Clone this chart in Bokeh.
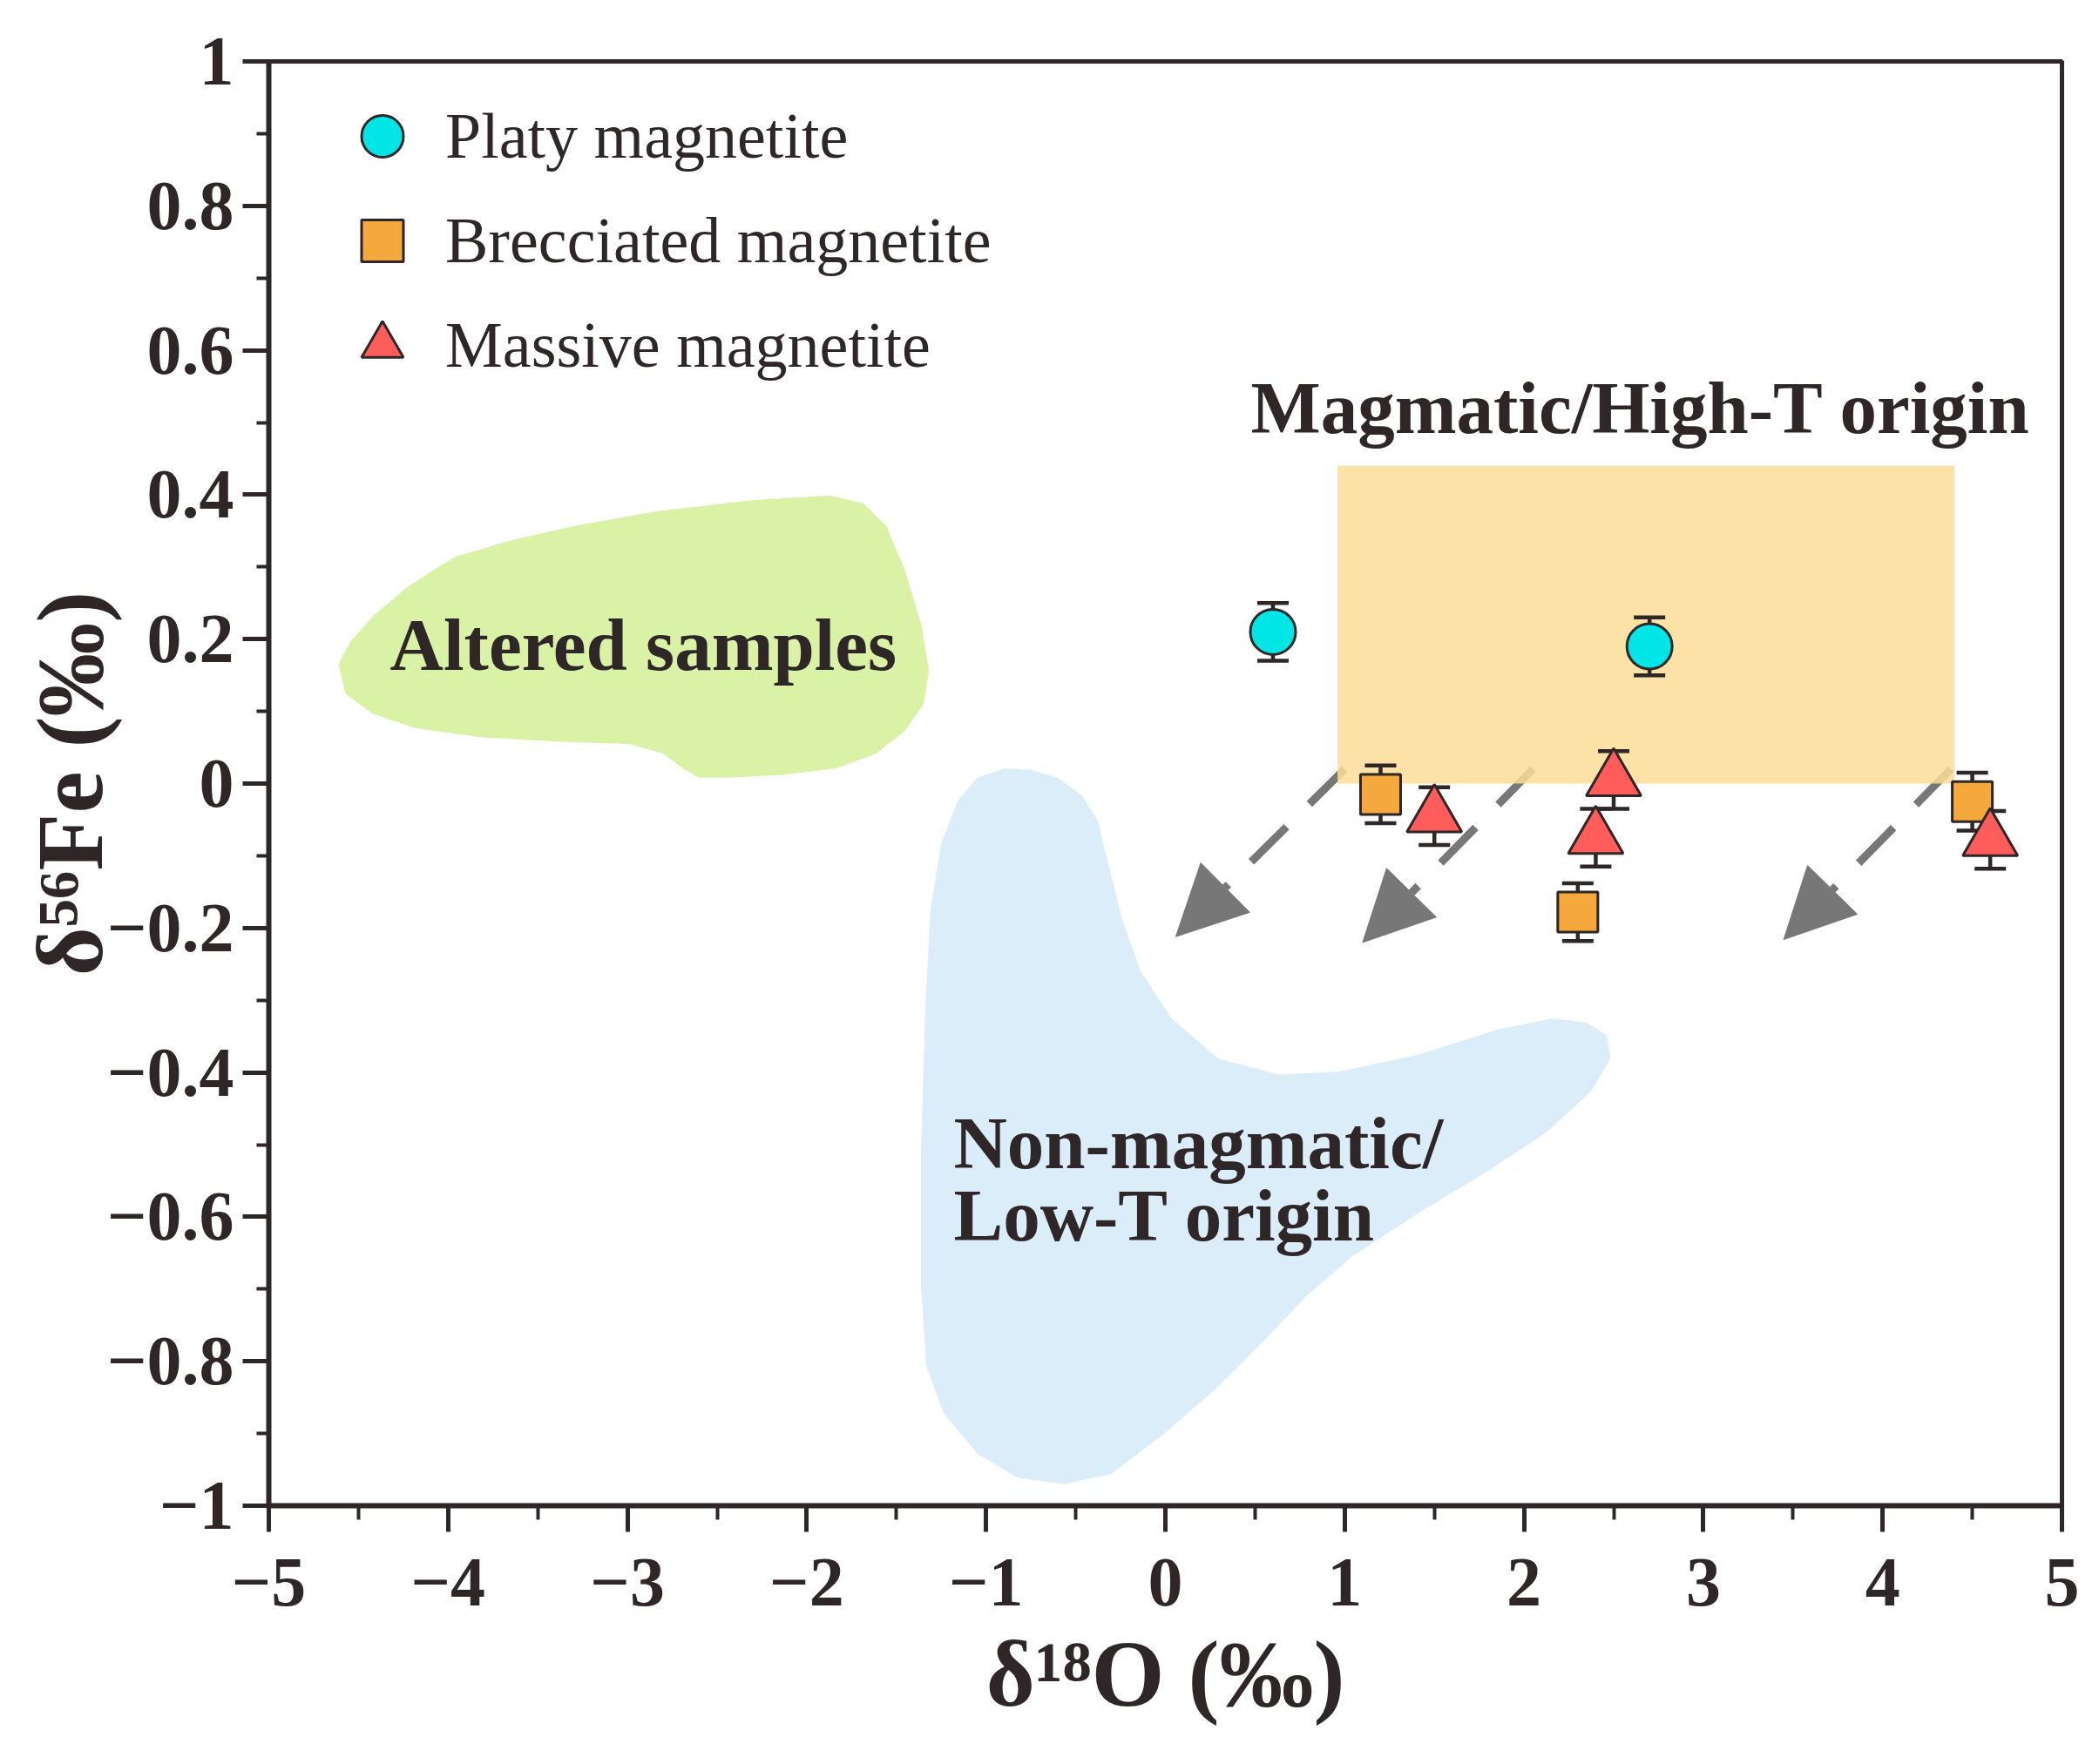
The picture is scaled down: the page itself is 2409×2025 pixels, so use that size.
from bokeh.plotting import figure
from bokeh.models import (ColumnDataSource, FixedTicker, CustomJSTickFormatter, Whisker, TeeHead,
                          Arrow, NormalHead, Legend, LegendItem)
from bokeh.core.properties import value
from bokeh.embed import file_html
from bokeh.resources import INLINE

# ---------------- data ----------------
platy_x = [0.6, 2.7]
platy_y = [0.21, 0.19]
platy_err = [0.04, 0.04]

brec_x = [1.2, 2.3, 4.5]
brec_y = [-0.015, -0.178, -0.025]
brec_err = [0.04, 0.04, 0.04]

mass_x = [1.5, 2.5, 2.4, 4.6]
mass_y = [-0.045, 0.005, -0.075, -0.078]
mass_err = [0.04, 0.04, 0.04, 0.04]

series_names = ["Platy magnetite", "Brecciated magnetite", "Massive magnetite"]

# Magmatic / High-T field (box)
mag_left, mag_right = 0.96, 4.40
mag_bottom, mag_top = 0.0, 0.44

# arrows out of the magmatic field
arrow_x0 = [1.0, 2.05, 4.38]
arrow_y0 = [0.02, 0.02, 0.02]
arrow_x1 = [0.058, 1.10, 3.448]
arrow_y1 = [-0.212, -0.220, -0.216]

# Altered samples field outline
alt_x = [-4.611, -4.544, -4.410, -4.223, -3.962, -3.663, -3.290, -2.842, -2.319, -1.871,
         -1.684, -1.557, -1.453, -1.363, -1.318, -1.348, -1.453, -1.610, -1.834, -2.133,
         -2.431, -2.603, -2.692, -2.804, -2.991, -3.364, -3.812, -4.186, -4.425, -4.574]
alt_y = [0.166, 0.197, 0.234, 0.273, 0.314, 0.336, 0.357, 0.377, 0.392, 0.399,
         0.388, 0.357, 0.296, 0.222, 0.157, 0.110, 0.073, 0.042, 0.021, 0.012,
         0.008, 0.008, 0.021, 0.042, 0.055, 0.058, 0.064, 0.077, 0.097, 0.125]

# Non-magmatic / Low-T field outline
low_x = [-0.900, -1.049, -1.161, -1.251, -1.311, -1.341, -1.363, -1.363, -1.333, -1.236,
         -1.049, -0.825, -0.564, -0.302, -0.004, 0.295, 0.556, 0.780, 1.042, 1.415,
         1.789, 2.125, 2.371, 2.483, 2.461, 2.349, 2.162, 1.863, 1.415, 0.967,
         0.631, 0.295, 0.034, -0.138, -0.243, -0.317, -0.377, -0.467, -0.601, -0.751]
low_y = [0.021, 0.008, -0.025, -0.084, -0.177, -0.325, -0.511, -0.696, -0.807, -0.872,
         -0.928, -0.961, -0.970, -0.956, -0.900, -0.835, -0.770, -0.711, -0.655, -0.594,
         -0.538, -0.483, -0.427, -0.381, -0.348, -0.331, -0.325, -0.340, -0.375, -0.399,
         -0.403, -0.381, -0.325, -0.260, -0.186, -0.112, -0.051, -0.016, 0.008, 0.019]

region_labels = ["Magmatic/High-T origin", "Altered samples", "Non-magmatic/", "Low-T origin"]
region_label_x = [0.476, -4.324, -1.181, -1.181]
region_label_y = [0.521, 0.192, -0.498, -0.598]

x_ticks = [-5, -4, -3, -2, -1, 0, 1, 2, 3, 4, 5]
x_minor = [-4.5, -3.5, -2.5, -1.5, -0.5, 0.5, 1.5, 2.5, 3.5, 4.5]
y_ticks = [-1.0, -0.8, -0.6, -0.4, -0.2, 0.0, 0.2, 0.4, 0.6, 0.8, 1.0]
y_minor = [-0.9, -0.7, -0.5, -0.3, -0.1, 0.1, 0.3, 0.5, 0.7, 0.9]

x_title = "\u03b4\u00b9\u2078O (\u2030)"
y_title = "\u03b4\u2075\u2076Fe (\u2030)"

# ---------------- style ----------------
INK = "#2f2727"
FONT = "Liberation Serif"
C_PLATY = "#00E5E5"
C_BREC = "#F5A83C"
C_MASS = "#FF5C5C"

p = figure(width=2393, height=2009, x_range=(-5, 5), y_range=(-1, 1),
           output_backend="svg", toolbar_location=None,
           min_border_left=308, min_border_right=27, min_border_top=70, min_border_bottom=281)
p.background_fill_color = "white"
p.border_fill_color = "white"
p.xgrid.visible = False
p.ygrid.visible = False
p.outline_line_color = INK
p.outline_line_width = 5

# fields (underlay level so the error bars sit above the box and below the markers)
p.patch(alt_x, alt_y, fill_color="#D9F2A6", line_color=None, level="underlay")
p.patch(low_x, low_y, fill_color="#DCEDFA", line_color=None, level="underlay")

# arrows (lowest level so the box veils their start)
arr_src = ColumnDataSource(dict(x0=arrow_x0, y0=arrow_y0, x1=arrow_x1, y1=arrow_y1))
p.add_layout(Arrow(x_start="x0", y_start="y0", x_end="x1", y_end="y1", source=arr_src,
                   line_color="#777777", line_width=9, line_dash="57 37", level="image",
                   end=NormalHead(size=80, fill_color="#777777", line_color="#777777", line_width=1)))

p.quad(left=[mag_left], right=[mag_right], bottom=[mag_bottom], top=[mag_top],
       fill_color="#FBDD96", fill_alpha=0.85, line_color=None, level="underlay")

# region texts
p.text(x=region_label_x, y=region_label_y, text=region_labels,
       text_font=value(FONT), text_font_style="bold", text_font_size="85px",
       text_color=INK, text_align="left", text_baseline="alphabetic")

# error bars + markers
def add_series(xs, ys, errs, marker, size, color):
    src = ColumnDataSource(dict(x=xs, y=ys,
                                lo=[a - e for a, e in zip(ys, errs)],
                                hi=[a + e for a, e in zip(ys, errs)]))
    w = Whisker(source=src, base="x", lower="lo", upper="hi", dimension="height",
                line_color=INK, line_width=4.5, level="underlay",
                upper_head=TeeHead(size=36, line_color=INK, line_width=4.5),
                lower_head=TeeHead(size=36, line_color=INK, line_width=4.5))
    p.add_layout(w)
    return p.scatter("x", "y", source=src, marker=marker, size=size,
                     fill_color=color, line_color=INK, line_width=3)

r1 = add_series(platy_x, platy_y, platy_err, "circle", 52, C_PLATY)
r2 = add_series(brec_x, brec_y, brec_err, "square", 46, C_BREC)
r3 = add_series(mass_x, mass_y, mass_err, "triangle", 63, C_MASS)

legend = Legend(items=[LegendItem(label=series_names[0], renderers=[r1]),
                       LegendItem(label=series_names[1], renderers=[r2]),
                       LegendItem(label=series_names[2], renderers=[r3])],
                location=(68, 1272), orientation="vertical",
                glyph_width=125, glyph_height=120, label_height=120, spacing=0,
                padding=0, margin=0, label_standoff=10,
                label_text_font=FONT, label_text_font_size="74px", label_text_color=INK,
                border_line_color=None, background_fill_alpha=0)
p.add_layout(legend, "center")

# axes
fmt = CustomJSTickFormatter(code="""
    let s;
    if (Math.abs(tick - Math.round(tick)) < 1e-9) { s = Math.round(tick).toString(); }
    else { s = tick.toFixed(1); }
    if (s === "-0" || s === "-0.0") { s = "0"; }
    return s.replace("-", "\u2212");
""")
p.xaxis.ticker = FixedTicker(ticks=x_ticks, minor_ticks=x_minor)
p.yaxis.ticker = FixedTicker(ticks=y_ticks, minor_ticks=y_minor)
for ax, minor_len in ((p.xaxis, 16), (p.yaxis, 14)):
    ax.formatter = fmt
    ax.axis_line_color = INK
    ax.axis_line_width = 6
    ax.major_tick_line_color = INK
    ax.major_tick_line_width = 5
    ax.minor_tick_line_color = INK
    ax.minor_tick_line_width = 4
    ax.major_tick_in = 0
    ax.major_tick_out = 30
    ax.minor_tick_in = 0
    ax.minor_tick_out = minor_len
    ax.major_label_text_font = FONT
    ax.major_label_text_font_style = "bold"
    ax.major_label_text_font_size = "80px"
    ax.major_label_text_color = INK
    ax.axis_label_text_font = FONT
    ax.axis_label_text_font_style = "bold"
    ax.axis_label_text_font_size = "108px"
    ax.axis_label_text_color = INK
p.xaxis.major_label_standoff = 31
p.yaxis.major_label_standoff = 10
p.xaxis.axis_label = x_title
p.yaxis.axis_label = y_title
p.xaxis.axis_label_standoff = 16
p.yaxis.axis_label_standoff = -20

open("out.html", "w").write(file_html(p, INLINE))
